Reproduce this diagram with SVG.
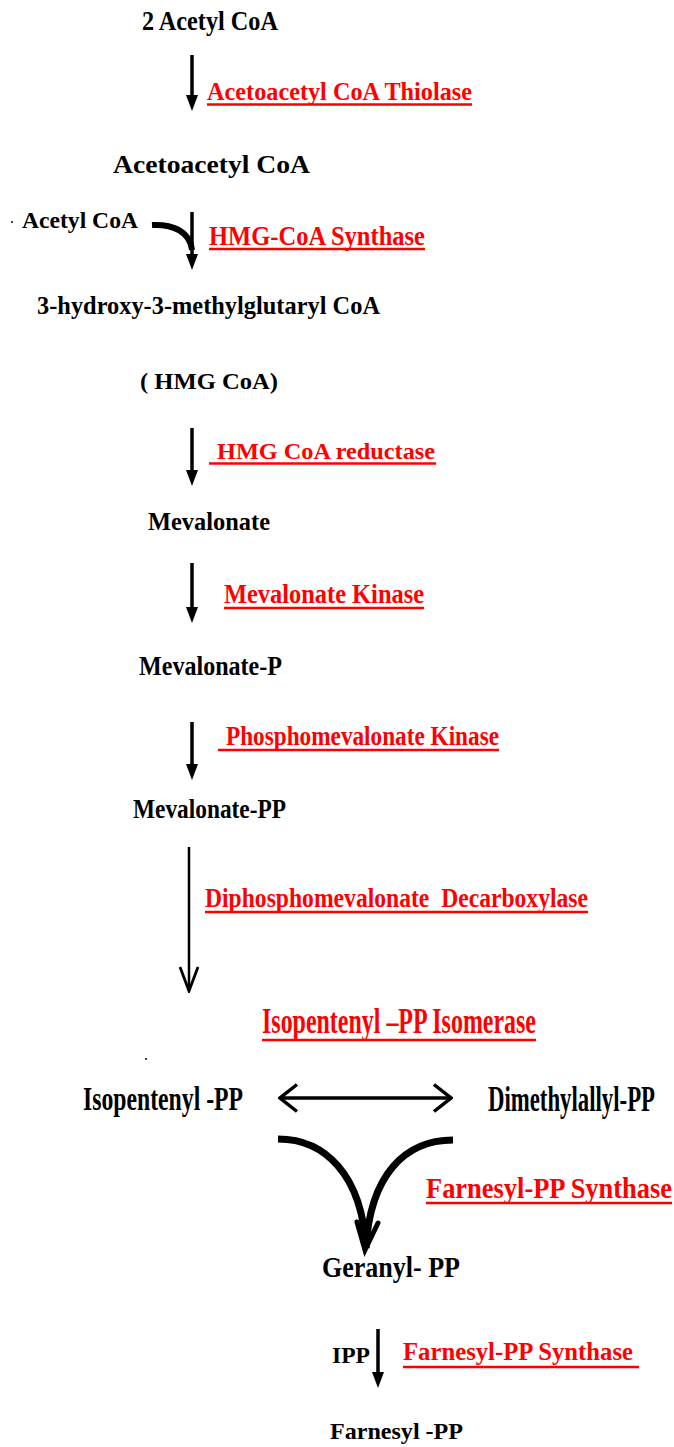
<svg xmlns="http://www.w3.org/2000/svg" width="674" height="1447" viewBox="0 0 674 1447">
<style>
text{font-family:"Liberation Serif","Times New Roman",serif;font-weight:bold;}
.m{fill:#000;font-size:24px;}
.e{fill:#ff0000;font-size:24px;}
.ul{stroke:#ff0000;stroke-width:2.6;}
.ln{stroke:#000;stroke-width:3.5;fill:none;}
.thin{stroke:#000;stroke-width:2.5;fill:none;}
.thick{stroke:#000;stroke-width:7;fill:none;stroke-linecap:butt;}
.vee{stroke:#000;stroke-width:5;fill:none;stroke-linejoin:miter;stroke-linecap:round;}
</style>
<defs>
<marker id="head" viewBox="0 0 16 12" refX="6" refY="6" markerWidth="16" markerHeight="12" markerUnits="userSpaceOnUse" orient="auto"><path d="M0,0 L16,6 L0,12 z" fill="#000"/></marker>
<marker id="open" viewBox="-2 -2 28 22" refX="24" refY="9" markerWidth="28" markerHeight="22" markerUnits="userSpaceOnUse" orient="auto"><path d="M0,0 L24,9 L0,18" fill="none" stroke="#000" stroke-width="2.8"/></marker>
<marker id="open2" viewBox="-2 -2 21 31" refX="17" refY="13.5" markerWidth="21" markerHeight="31" markerUnits="userSpaceOnUse" orient="auto-start-reverse"><path d="M0,0 L17,13.5 L0,27" fill="none" stroke="#000" stroke-width="3.5"/></marker>
</defs>

<g id="connectors">
<line class="ln" x1="192" y1="55" x2="192" y2="101" marker-end="url(#head)"/>
<path class="thick" d="M152,225 C172,224 190,231 192,250" style="stroke-width:6"/>
<line class="ln" x1="192" y1="212" x2="192" y2="260" marker-end="url(#head)"/>
<line class="ln" x1="192" y1="428" x2="192" y2="476" marker-end="url(#head)"/>
<line class="ln" x1="192" y1="563" x2="192" y2="613" marker-end="url(#head)"/>
<line class="ln" x1="192" y1="722" x2="192" y2="770" marker-end="url(#head)"/>
<line class="thin" x1="189" y1="847" x2="189" y2="991" marker-end="url(#open)"/>
<line class="ln" x1="280" y1="1098" x2="451" y2="1098" marker-start="url(#open2)" marker-end="url(#open2)"/>
<path class="thick" d="M278,1139 C325,1139 362,1175 366,1248"/>
<path class="thick" d="M453,1140 C405,1140 370,1175 366,1248"/>
<path class="vee" d="M357,1222 L365,1250 L378,1223"/>
<line class="ln" x1="378" y1="1329" x2="378" y2="1378" marker-end="url(#head)"/>
</g>

<g id="n-2acetylcoa"><text class="m" transform="translate(142,30) scale(1,1.13)" textLength="136" lengthAdjust="spacingAndGlyphs">2 Acetyl CoA</text></g>
<g id="n-acetoacetylcoa"><text class="m" style="font-size:26px" transform="translate(113,173)" textLength="197" lengthAdjust="spacingAndGlyphs">Acetoacetyl CoA</text></g>
<g id="n-acetylcoa"><circle cx="12" cy="222" r="1" fill="#000"/><text class="m" transform="translate(22,228)" textLength="116" lengthAdjust="spacingAndGlyphs">Acetyl CoA</text></g>
<g id="n-hmg"><text class="m" transform="translate(37,314) scale(1,1.05)" textLength="343" lengthAdjust="spacingAndGlyphs">3-hydroxy-3-methylglutaryl CoA</text></g>
<g id="n-hmgabbr"><text class="m" transform="translate(140,389)" textLength="138" lengthAdjust="spacingAndGlyphs">( HMG CoA)</text></g>
<g id="n-mevalonate"><text class="m" transform="translate(148,530) scale(1,1.05)" textLength="122" lengthAdjust="spacingAndGlyphs">Mevalonate</text></g>
<g id="n-mevp"><text class="m" transform="translate(139,675) scale(1,1.13)" textLength="143" lengthAdjust="spacingAndGlyphs">Mevalonate-P</text></g>
<g id="n-mevpp"><text class="m" transform="translate(133,818) scale(1,1.17)" textLength="153" lengthAdjust="spacingAndGlyphs">Mevalonate-PP</text></g>
<g id="n-ipp"><circle cx="146" cy="1059" r="1" fill="#000"/><text class="m" transform="translate(83,1110) scale(1,1.4)" textLength="160" lengthAdjust="spacingAndGlyphs">Isopentenyl -PP</text></g>
<g id="n-dmapp"><text class="m" transform="translate(488,1111) scale(1,1.45)" textLength="167" lengthAdjust="spacingAndGlyphs">Dimethylallyl-PP</text></g>
<g id="n-gpp"><text class="m" style="font-size:26px" transform="translate(322,1277) scale(1,1.16)" textLength="138" lengthAdjust="spacingAndGlyphs">Geranyl- PP</text></g>
<g id="n-ipp2"><text class="m" transform="translate(332,1363)" textLength="38" lengthAdjust="spacingAndGlyphs">IPP</text></g>
<g id="n-fpp"><text class="m" transform="translate(330,1439)" textLength="133" lengthAdjust="spacingAndGlyphs">Farnesyl -PP</text></g>

<g id="e-thiolase"><text class="e" transform="translate(207,100) scale(1,1.09)" textLength="265" lengthAdjust="spacingAndGlyphs">Acetoacetyl CoA Thiolase</text><line class="ul" x1="207" y1="104.5" x2="472" y2="104.5"/></g>
<g id="e-hmgsynthase"><text class="e" style="font-size:22px" transform="translate(209,245) scale(1,1.2)" textLength="216" lengthAdjust="spacingAndGlyphs">HMG-CoA Synthase</text><line class="ul" x1="209" y1="249" x2="425" y2="249"/></g>
<g id="e-hmgreductase"><text class="e" transform="translate(217,459)" textLength="218" lengthAdjust="spacingAndGlyphs">HMG CoA reductase</text><line class="ul" x1="209" y1="463.5" x2="436" y2="463.5"/></g>
<g id="e-mevkinase"><text class="e" transform="translate(224,603) scale(1,1.13)" textLength="200" lengthAdjust="spacingAndGlyphs">Mevalonate Kinase</text><line class="ul" x1="224" y1="608" x2="424" y2="608"/></g>
<g id="e-pmevkinase"><text class="e" style="font-size:22.5px" transform="translate(226,745) scale(1,1.2)" textLength="273" lengthAdjust="spacingAndGlyphs">Phosphomevalonate Kinase</text><line class="ul" x1="218" y1="750" x2="499" y2="750"/></g>
<g id="e-decarboxylase"><text class="e" style="font-size:23.3px" xml:space="preserve" transform="translate(205,907) scale(1,1.2)" textLength="383" lengthAdjust="spacingAndGlyphs">Diphosphomevalonate  Decarboxylase</text><line class="ul" x1="205" y1="912" x2="588" y2="912"/></g>
<g id="e-isomerase"><text class="e" transform="translate(262,1033) scale(1,1.45)" textLength="274" lengthAdjust="spacingAndGlyphs">Isopentenyl –PP Isomerase</text><line class="ul" x1="262" y1="1040" x2="536" y2="1040"/></g>
<g id="e-fppsynthase1"><text class="e" style="font-size:26px" transform="translate(426,1198) scale(1,1.1)" textLength="246" lengthAdjust="spacingAndGlyphs">Farnesyl-PP Synthase</text><line class="ul" x1="426" y1="1203" x2="672" y2="1203"/></g>
<g id="e-fppsynthase2"><text class="e" style="font-size:24.6px" transform="translate(403,1360)" textLength="230" lengthAdjust="spacingAndGlyphs">Farnesyl-PP Synthase</text><line class="ul" x1="403" y1="1367" x2="639" y2="1367"/></g>
</svg>
